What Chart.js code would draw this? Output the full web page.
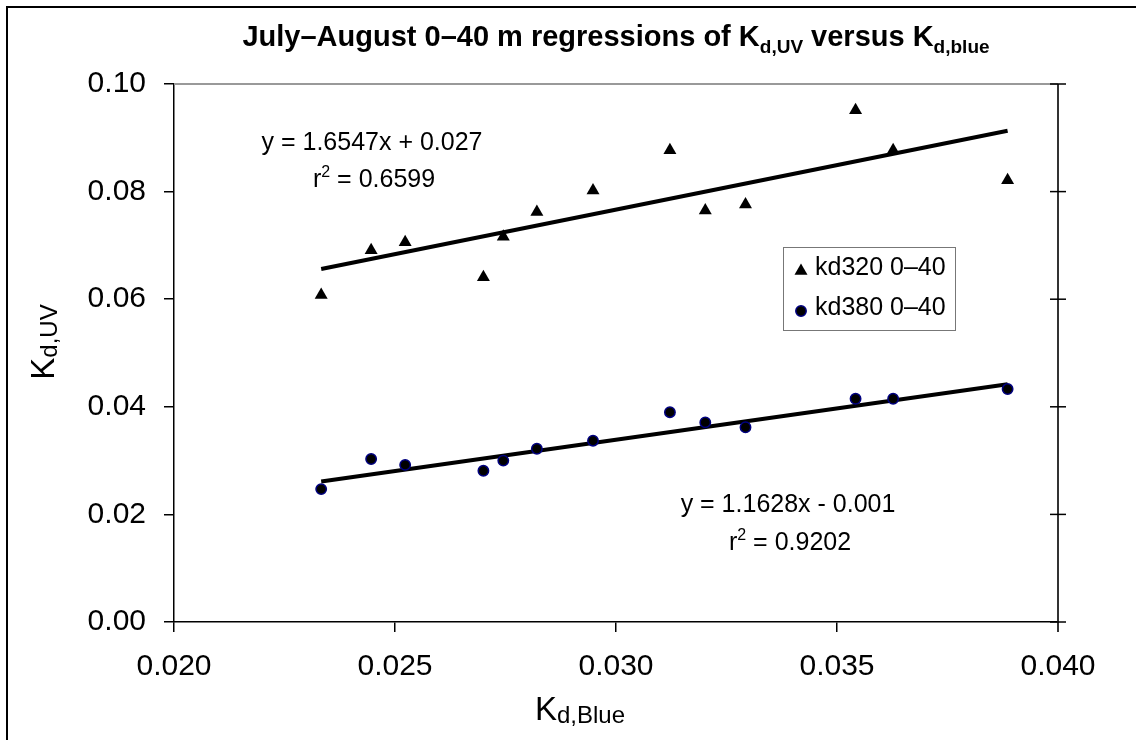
<!DOCTYPE html>
<html>
<head>
<meta charset="utf-8">
<script src="https://cdn.jsdelivr.net/npm/chart.js@4.4.1/dist/chart.umd.min.js"></script>
<style>
  html, body { margin: 0; padding: 0; background: #fff; }
  #wrap { position: relative; width: 1136px; height: 740px; }
</style>
</head>
<body>
<div id="wrap"><canvas id="chart"></canvas></div>
<script>
// Kd,Blue is shared by both series (same casts)
const kdBlue = [0.02333, 0.02446, 0.02523, 0.02700, 0.02745, 0.02821, 0.02948, 0.03122, 0.03202, 0.03293, 0.03542, 0.03627, 0.03886];
const kd320 = [0.0608, 0.0691, 0.0706, 0.0641, 0.0716, 0.0762, 0.0802, 0.0877, 0.0765, 0.0776, 0.0951, 0.0877, 0.0821];
const kd380 = [0.0247, 0.0303, 0.0292, 0.0281, 0.0300, 0.0322, 0.0337, 0.0390, 0.0371, 0.0362, 0.0415, 0.0415, 0.0433];

// regression coefficients printed on the chart: [slope, intercept]
const fit320 = [1.6547, 0.027];
const fit380 = [1.1628, -0.001];
const eq320 = ['y = 1.6547x + 0.027', ' = 0.6599'];
const eq380 = ['y = 1.1628x - 0.001', ' = 0.9202'];

const seriesNames = ['kd320 0\u201340', 'kd380 0\u201340'];
const xTicks = [0.020, 0.025, 0.030, 0.035, 0.040];
const yTicks = [0.00, 0.02, 0.04, 0.06, 0.08, 0.10];

const FONT = "'Liberation Sans', Arial, sans-serif";
const NAVY = '#000080';

function points(xs, ys) {
  return xs.map((x, i) => ({ x: x, y: ys[i] }));
}

// trendline spans the data range only, like the spreadsheet does
function trend(fit) {
  const lo = Math.min(...kdBlue);
  const hi = Math.max(...kdBlue);
  return [lo, hi].map(x => ({ x: x, y: fit[0] * x + fit[1] }));
}

// draw text made of runs (normal / sub / sup), aligned around x
function drawRuns(ctx, runs, x, y, align) {
  let total = 0;
  runs.forEach(r => {
    ctx.font = (r.bold ? 'bold ' : '') + r.size + 'px ' + FONT;
    r.w = ctx.measureText(r.t).width;
    total += r.w;
  });
  let cx = align === 'center' ? x - total / 2 : x;
  ctx.textBaseline = 'alphabetic';
  ctx.textAlign = 'left';
  runs.forEach(r => {
    ctx.font = (r.bold ? 'bold ' : '') + r.size + 'px ' + FONT;
    ctx.fillText(r.t, cx, y + (r.dy || 0));
    cx += r.w;
  });
}

const decorations = {
  id: 'decorations',
  afterDraw(chart) {
    const ctx = chart.ctx;
    const area = chart.chartArea;
    const ys = chart.scales.y;
    ctx.save();
    ctx.fillStyle = '#000';

    // outer frame (runs off the right and bottom of the picture)
    ctx.strokeStyle = '#000';
    ctx.lineWidth = 2;
    ctx.strokeRect(7, 7, 1200, 800);

    // top edge of plot and right axis with crossing ticks
    ctx.strokeStyle = '#999';
    ctx.lineWidth = 2;
    ctx.beginPath();
    ctx.moveTo(area.left, area.top);
    ctx.lineTo(area.right, area.top);
    ctx.stroke();
    ctx.strokeStyle = '#333';
    ctx.beginPath();
    ctx.moveTo(area.right, area.top);
    ctx.lineTo(area.right, area.bottom + 10);
    ctx.stroke();
    ctx.lineWidth = 1.5;
    ctx.strokeStyle = '#000';
    yTicks.forEach(v => {
      const py = ys.getPixelForValue(v);
      ctx.beginPath();
      ctx.moveTo(area.right - 8, py);
      ctx.lineTo(area.right + 8, py);
      ctx.stroke();
    });

    // chart title
    drawRuns(ctx, [
      { t: 'July\u2013August 0\u201340 m regressions of K', size: 29, bold: true },
      { t: 'd,UV', size: 19, bold: true, dy: 7 },
      { t: ' versus K', size: 29, bold: true },
      { t: 'd,blue', size: 19, bold: true, dy: 7 }
    ], (area.left + area.right) / 2, 46, 'center');

    // x axis title
    drawRuns(ctx, [
      { t: 'K', size: 33 },
      { t: 'd,Blue', size: 24, dy: 3 }
    ], 580, 720, 'center');

    // y axis title, rotated
    ctx.save();
    ctx.translate(54, 342);
    ctx.rotate(-Math.PI / 2);
    drawRuns(ctx, [
      { t: 'K', size: 33 },
      { t: 'd,UV', size: 24, dy: 3 }
    ], 0, 0, 'center');
    ctx.restore();

    // regression equations
    drawRuns(ctx, [{ t: eq320[0], size: 25 }], 372, 150, 'center');
    drawRuns(ctx, [
      { t: 'r', size: 25 }, { t: '2', size: 16, dy: -10 }, { t: eq320[1], size: 25 }
    ], 374, 187, 'center');
    drawRuns(ctx, [{ t: eq380[0], size: 25 }], 788, 512, 'center');
    drawRuns(ctx, [
      { t: 'r', size: 25 }, { t: '2', size: 16, dy: -10 }, { t: eq380[1], size: 25 }
    ], 790, 550, 'center');

    // legend box
    ctx.strokeStyle = '#777';
    ctx.lineWidth = 1;
    ctx.strokeRect(783.5, 247.5, 172, 83);
    const ds = chart.data.datasets;
    [0, 1].forEach(i => {
      const d = ds[i];
      const ly = i === 0 ? 271 : 311;
      ctx.fillStyle = d.backgroundColor;
      ctx.strokeStyle = d.borderColor;
      ctx.lineWidth = d.borderWidth;
      Chart.helpers.drawPoint(ctx, {
        pointStyle: d.pointStyle, radius: d.pointRadius, rotation: 0, borderWidth: d.borderWidth
      }, 801, ly);
      ctx.fillStyle = '#000';
      ctx.font = '25px ' + FONT;
      ctx.textAlign = 'left';
      ctx.textBaseline = 'middle';
      ctx.fillText(seriesNames[i], 815, ly - 3);
    });

    ctx.restore();
  }
};

const axisCommon = {
  type: 'linear',
  grid: {
    display: true,
    drawOnChartArea: false,
    drawTicks: true,
    tickLength: 10,
    color: '#000',
    lineWidth: 1.5
  },
  border: { display: true, color: '#000', width: 1.5 }
};

new Chart(document.getElementById('chart'), {
  type: 'scatter',
  data: {
    datasets: [
      {
        label: seriesNames[0],
        data: points(kdBlue, kd320),
        pointStyle: 'triangle',
        pointRadius: 7.5,
        backgroundColor: '#000',
        borderColor: '#000',
        borderWidth: 0,
        order: 1
      },
      {
        label: seriesNames[1],
        data: points(kdBlue, kd380),
        pointStyle: 'circle',
        pointRadius: 5.2,
        backgroundColor: '#000',
        borderColor: NAVY,
        borderWidth: 1.5,
        order: 1
      },
      {
        data: trend(fit320),
        showLine: true,
        pointRadius: 0,
        borderColor: '#000',
        borderWidth: 4,
        order: 2
      },
      {
        data: trend(fit380),
        showLine: true,
        pointRadius: 0,
        borderColor: '#000',
        borderWidth: 4,
        order: 2
      }
    ]
  },
  options: {
    responsive: true,
    maintainAspectRatio: false,
    animation: false,
    layout: { padding: { top: 84, right: 78, left: 0, bottom: 0 } },
    plugins: {
      legend: { display: false },
      title: { display: false },
      tooltip: { enabled: false }
    },
    scales: {
      x: {
        ...axisCommon,
        min: 0.02,
        max: 0.04,
        afterBuildTicks: (s) => { s.ticks = xTicks.map(v => ({ value: v })); },
        afterFit: (s) => { s.height = 118; },
        ticks: {
          padding: 17,
          color: '#000',
          font: { family: FONT, size: 30 },
          callback: (v) => Number(v).toFixed(3)
        }
      },
      y: {
        ...axisCommon,
        min: 0,
        max: 0.1,
        afterBuildTicks: (s) => { s.ticks = yTicks.map(v => ({ value: v })); },
        afterFit: (s) => { s.width = 174; },
        ticks: {
          padding: 18,
          color: '#000',
          font: { family: FONT, size: 30 },
          callback: (v) => Number(v).toFixed(2)
        }
      }
    }
  },
  plugins: [decorations]
});
</script>
</body>
</html>
